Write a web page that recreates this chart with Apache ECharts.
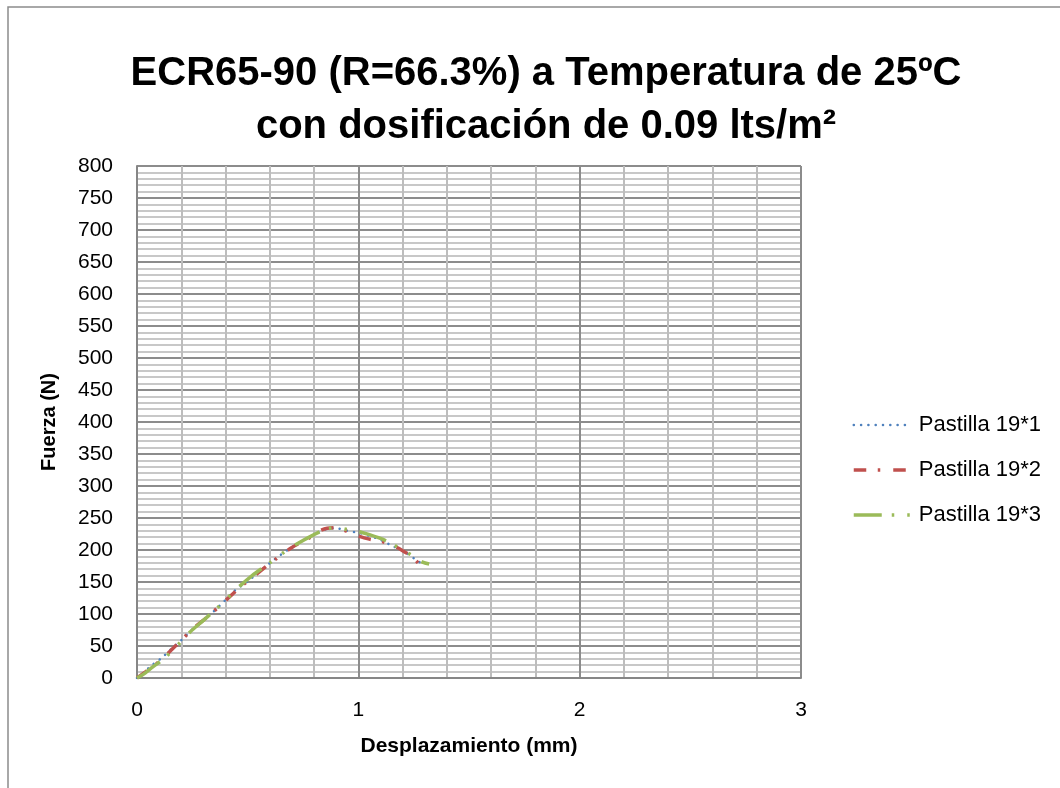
<!DOCTYPE html>
<html>
<head>
<meta charset="utf-8">
<script src="https://cdn.jsdelivr.net/npm/echarts@6/dist/echarts.min.js"></script>
<style>
html,body{margin:0;padding:0;background:#fff;}
#chart{width:1060px;height:788px;}
</style>
</head>
<body>
<div id="chart"></div>
<script>
// Tick labels / axis ranges
const xTicks = [0, 1, 2, 3];
const yTicks = [0, 50, 100, 150, 200, 250, 300, 350, 400, 450, 500, 550, 600, 650, 700, 750, 800];
const seriesNames = ['Pastilla 19*1', 'Pastilla 19*2', 'Pastilla 19*3'];

// Pastilla 19*1
const s1x = [0, 0.03, 0.06, 0.11, 0.16, 0.2, 0.25, 0.3, 0.34, 0.4, 0.44, 0.5, 0.57, 0.62, 0.68, 0.74, 0.81, 0.86, 0.9, 0.95, 1.0, 1.05, 1.1, 1.15, 1.2, 1.24, 1.27, 1.3];
const s1y = [0, 8, 18, 31, 47, 59, 76, 91, 102, 122, 136, 151, 171, 185, 200, 213, 226, 233, 234, 230, 227, 222, 216, 207, 199, 190, 182, 179];
// Pastilla 19*2
const s2x = [0, 0.04, 0.08, 0.12, 0.18, 0.25, 0.32, 0.4, 0.47, 0.55, 0.62, 0.7, 0.77, 0.82, 0.86, 0.9, 0.95, 1.0, 1.05, 1.1, 1.15, 1.2, 1.24, 1.27];
const s2y = [0, 10, 20, 32, 52, 76, 96, 121, 143, 165, 184, 204, 217, 229, 234, 235, 229, 222, 217, 214, 208, 199, 190, 180];
// Pastilla 19*3
const s3x = [0, 0.03, 0.07, 0.12, 0.18, 0.24, 0.3, 0.38, 0.45, 0.52, 0.6, 0.67, 0.73, 0.8, 0.85, 0.9, 0.95, 1.0, 1.05, 1.1, 1.15, 1.2, 1.25, 1.29, 1.32];
const s3y = [0, 6, 17, 30, 50, 72, 90, 115, 139, 160, 180, 198, 211, 224, 232, 235, 232, 229, 224, 218, 210, 200, 190, 181, 178];

const zip = (xs, ys) => xs.map((x, i) => [x, ys[i]]);

const chart = echarts.init(document.getElementById('chart'));
const font = 'Liberation Sans, Arial, sans-serif';

chart.setOption({
  animation: false,
  backgroundColor: '#ffffff',
  graphic: [{
    type: 'rect', shape: {x: 8, y: 7, width: 1200, height: 900},
    style: {fill: 'none', stroke: '#8c8c8c', lineWidth: 1.5}, silent: true, z: -10
  }],
  title: {
    text: 'ECR65-90 (R=66.3%) a Temperatura de 25ºC\ncon dosificación de 0.09 lts/m²',
    left: 541, top: 42, textAlign: 'center',
    textStyle: {fontFamily: font, fontWeight: 'bold', fontSize: 40, lineHeight: 53, color: '#000'}
  },
  legend: {
    orient: 'vertical', left: 847, top: 408,
    itemWidth: 58, itemHeight: 14, itemGap: 21,
    itemStyle: {opacity: 0},
    lineStyle: {width: 'inherit', type: 'inherit'},
    textStyle: {fontFamily: font, fontSize: 22, lineHeight: 24, color: '#000', padding: [0, 0, 0, 2]},
    data: seriesNames
  },
  grid: {left: 137, top: 166, right: 259, bottom: 110, containLabel: false},
  xAxis: {
    type: 'value', min: xTicks[0], max: xTicks[xTicks.length - 1], interval: 1,
    name: 'Desplazamiento (mm)', nameLocation: 'middle', nameGap: 58,
    nameTextStyle: {fontFamily: font, fontWeight: 'bold', fontSize: 21, color: '#000'},
    axisLine: {show: true, lineStyle: {color: '#868686', width: 2}},
    axisTick: {show: false},
    axisLabel: {fontFamily: font, fontSize: 21, color: '#000', margin: 22},
    splitLine: {show: true, lineStyle: {color: '#8c8c8c', width: 2}},
    minorTick: {show: false, splitNumber: 5},
    minorSplitLine: {show: true, lineStyle: {color: '#bdbdbd', width: 2}}
  },
  yAxis: {
    type: 'value', min: yTicks[0], max: yTicks[yTicks.length - 1], interval: 50,
    name: 'Fuerza (N)', nameLocation: 'middle', nameGap: 78, nameRotate: 90,
    nameTextStyle: {fontFamily: font, fontWeight: 'bold', fontSize: 20, color: '#000'},
    axisLine: {show: true, lineStyle: {color: '#868686', width: 2}},
    axisTick: {show: false},
    axisLabel: {fontFamily: font, fontSize: 21, color: '#000', margin: 24},
    splitLine: {show: true, lineStyle: {color: '#8c8c8c', width: 2}},
    minorTick: {show: false, splitNumber: 5},
    minorSplitLine: {show: true, lineStyle: {color: '#c8c8c8', width: 2}}
  },
  series: [
    {name: seriesNames[0], type: 'line', data: zip(s1x, s1y), symbol: 'none', smooth: 0.3,
     lineStyle: {color: '#4F81BD', width: 2.5, type: [0.1, 7.2], cap: 'round'}, itemStyle: {color: '#4F81BD'}, z: 3},
    {name: seriesNames[1], type: 'line', data: zip(s2x, s2y), symbol: 'none', smooth: 0.3,
     lineStyle: {color: '#C0504D', width: 3.5, type: [12.5, 11.5, 2.5, 13]}, itemStyle: {color: '#C0504D'}, z: 4},
    {name: seriesNames[2], type: 'line', data: zip(s3x, s3y), symbol: 'none', smooth: 0.3,
     lineStyle: {color: '#9BBB59', width: 3.5, type: [28, 10, 2.5, 13, 2.5, 13]}, itemStyle: {color: '#9BBB59'}, z: 5}
  ]
});
</script>
</body>
</html>
